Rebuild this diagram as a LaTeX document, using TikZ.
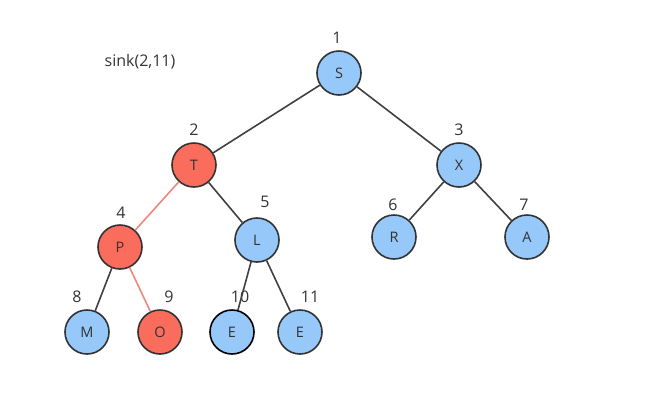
\documentclass[tikz,border=0pt]{standalone}
\usepackage{fontspec}
\setmainfont{Open Sans}
\usetikzlibrary{positioning}
\definecolor{heapblue}{RGB}{150,200,250}
\definecolor{heapred}{RGB}{250,108,92}
\definecolor{edgered}{RGB}{240,135,125}

\begin{document}
\begin{tikzpicture}[
    x=1pt, y=-1pt,
    % Styles
    keynode/.style={circle, draw=black!80, fill=heapblue, line width=1.6pt, minimum size=44pt, inner sep=0pt, font=\fontsize{14.5}{14.5}\selectfont, text=black!80},
    sinknode/.style={keynode, fill=heapred},
    tree-edge/.style={line width=1.6pt, black!75},
    sink-edge/.style={line width=1.6pt, edgered},
    idx/.style={font=\fontsize{16}{16}\selectfont, text=black!80, inner sep=0pt},
]
\useasboundingbox (0,0) rectangle (657,416);

% Caption
\node[font=\fontsize{16}{16}\selectfont, text=black!80] (caption) at (140,62) {sink(2,11)};

% Tree nodes
\node[keynode] (s) at (339,73) {S};
\node[sinknode] (t) at (194,165) {T};
\node[keynode] (x) at (459,165) {X};
\node[sinknode] (p) at (120,247) {P};
\node[keynode] (l) at (257,240) {L};
\node[keynode] (r) at (394,237) {R};
\node[keynode] (a) at (527,237) {A};
\node[keynode] (m) at (87,332) {M};
\node[sinknode] (o) at (160,332) {O};
\node[keynode, draw=black] (e1) at (232,332) {E};
\node[keynode] (e2) at (300,332) {E};

% Array indices
\node[idx] (i1) at (337,38) {1};
\node[idx] (i2) at (194,130) {2};
\node[idx] (i3) at (459,130) {3};
\node[idx] (i4) at (121,213) {4};
\node[idx] (i5) at (265,202) {5};
\node[idx] (i6) at (393,205) {6};
\node[idx] (i7) at (524,205) {7};
\node[idx] (i8) at (77,297) {8};
\node[idx] (i9) at (169,297) {9};
\node[idx] (i10) at (240,297) {10};
\node[idx] (i11) at (310,297) {11};

% Edges
\draw[tree-edge] (s) -- (t);
\draw[tree-edge] (s) -- (x);
\draw[sink-edge] (t) -- (p);
\draw[tree-edge] (t) -- (l);
\draw[tree-edge] (x) -- (r);
\draw[tree-edge] (x) -- (a);
\draw[tree-edge] (p) -- (m);
\draw[sink-edge] (p) -- (o);
\draw[tree-edge] (l) -- (e1);
\draw[tree-edge] (l) -- (e2);

\end{tikzpicture}
\end{document}
